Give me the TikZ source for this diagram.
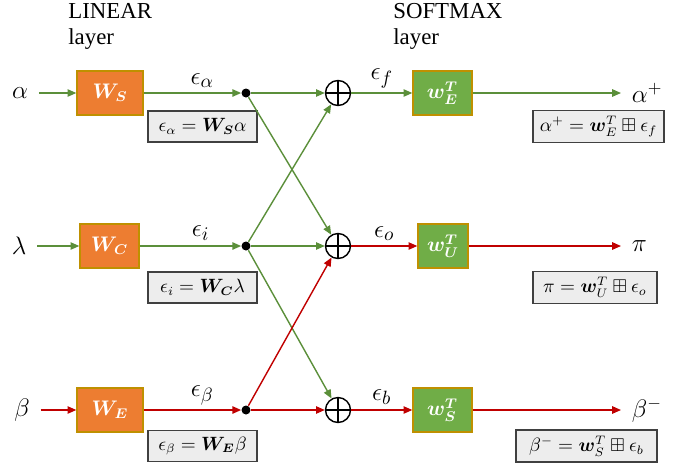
\documentclass[tikz,border=0pt]{standalone}
\usepackage{amsmath,amssymb,bm}
\usepackage{fontspec}
\setmainfont{Liberation Serif}
\usetikzlibrary{arrows.meta,positioning}
\definecolor{linorange}{HTML}{ED7D31}
\definecolor{smgreen}{HTML}{70AD47}
\definecolor{boxedge}{HTML}{BF9000}
\definecolor{flowgreen}{HTML}{5B8F3A}
\definecolor{flowred}{HTML}{C00000}
\definecolor{eqfill}{HTML}{EDEDED}

\begin{document}
\begin{tikzpicture}[x=0.02cm, y=-0.02cm,
  wbox/.style={draw=boxedge, line width=0.8pt, fill=linorange, text=white, minimum height=0.88cm, font=\fontsize{12}{14}\selectfont},
  sbox/.style={wbox, fill=smgreen},
  eqbox/.style={draw=black!75, fill=eqfill, line width=0.8pt, minimum height=0.62cm, font=\fontsize{10.5}{12}\selectfont},
  sym/.style={inner sep=6pt, font=\fontsize{14}{16}\selectfont},
  title/.style={align=left, inner sep=0pt, anchor=north west, font=\fontsize{13}{15}\selectfont},
  junc/.style={circle, fill=black, inner sep=0pt, minimum size=0.18cm},
  adder/.style={circle, draw, line width=0.8pt, inner sep=0pt, minimum size=0.5cm,
    path picture={\draw[line width=0.8pt] (path picture bounding box.north) -- (path picture bounding box.south)
      (path picture bounding box.west) -- (path picture bounding box.east);}},
  flow/.style={-{Triangle[length=5pt,width=4.2pt]}, line width=0.8pt},
  lbl/.style={above, inner sep=2.5pt, font=\fontsize{15.5}{17}\selectfont}]
  \useasboundingbox (0,0) rectangle (683,464);

  \node[title] (lin) at (68,3) {LINEAR\\layer};
  \node[title] (soft) at (393,3) {SOFTMAX\\layer};

  \node[sym] (alpha) at (20,93) {$\alpha$};
  \node[sym] (lambda) at (19,246) {$\lambda$};
  \node[sym] (beta) at (22,410) {$\beta$};

  \node[wbox, minimum width=1.32cm] (ws) at (110,93) {$\bm{W_S}$};
  \node[wbox, minimum width=1.18cm] (wc) at (109.5,246) {$\bm{W_C}$};
  \node[wbox, minimum width=1.32cm] (we) at (110,410) {$\bm{W_E}$};

  \node[junc] (da) at (246,93) {};
  \node[junc] (di) at (246,246) {};
  \node[junc] (db) at (246,410) {};

  \node[adder] (addf) at (338,93) {};
  \node[adder] (addo) at (338,246) {};
  \node[adder] (addb) at (338,410) {};

  \node[sbox, minimum width=1.18cm] (wet) at (442.5,93) {$\bm{w_E^T}$};
  \node[sbox, minimum width=1.0cm] (wut) at (443,246) {$\bm{w_U^T}$};
  \node[sbox, minimum width=1.18cm] (wst) at (442.5,410) {$\bm{w_S^T}$};

  \node[sym, anchor=west] (aplus) at (621,93) {$\alpha^+$};
  \node[sym, anchor=west] (pi) at (621,246) {$\pi$};
  \node[sym, anchor=west] (bminus) at (621,410) {$\beta^-$};

  \node[eqbox, minimum width=2.18cm] (eqa) at (202.5,126.5) {$\epsilon_\alpha = \bm{W_S}\alpha$};
  \node[eqbox, minimum width=2.18cm] (eqi) at (202.5,287.5) {$\epsilon_i = \bm{W_C}\lambda$};
  \node[eqbox, minimum width=2.18cm] (eqb) at (202.5,446) {$\epsilon_\beta = \bm{W_E}\beta$};
  \node[eqbox, minimum width=2.62cm] (eqap) at (598.5,126.5) {$\alpha^+ = \bm{w}_E^T \boxplus \epsilon_f$};
  \node[eqbox, minimum width=2.48cm] (eqpi) at (595,287.5) {$\pi = \bm{w}_U^T \boxplus \epsilon_o$};
  \node[eqbox, minimum width=2.82cm] (eqbm) at (586.5,446) {$\beta^- = \bm{w}_S^T \boxplus \epsilon_b$};

  \draw[flow, flowgreen] (alpha) -- (ws);
  \draw[flow, flowgreen] (ws) -- node[lbl, pos=0.6, text=black] {$\epsilon_\alpha$} (da);
  \draw[flow, flowgreen] (da) -- (addf);
  \draw[flow, flowgreen] (da) -- (addo);
  \draw[flow, flowgreen] (addf) -- node[lbl, text=black] {$\epsilon_f$} (wet);
  \draw[flow, flowgreen] (wet) -- (aplus.west);

  \draw[flow, flowgreen] (lambda) -- (wc);
  \draw[flow, flowgreen] (wc) -- node[lbl, pos=0.6, text=black] {$\epsilon_i$} (di);
  \draw[flow, flowgreen] (di) -- (addf);
  \draw[flow, flowgreen] (di) -- (addo);
  \draw[flow, flowgreen] (di) -- (addb);
  \draw[flow, flowred] (addo) -- node[lbl, text=black] {$\epsilon_o$} (wut);
  \draw[flow, flowred] (wut) -- (pi.west);

  \draw[flow, flowred] (beta) -- (we);
  \draw[flow, flowred] (we) -- node[lbl, pos=0.6, text=black] {$\epsilon_\beta$} (db);
  \draw[flow, flowred] (db) -- (addo);
  \draw[flow, flowred] (db) -- (addb);
  \draw[flow, flowred] (addb) -- node[lbl, text=black] {$\epsilon_b$} (wst);
  \draw[flow, flowred] (wst) -- (bminus.west);
\end{tikzpicture}
\end{document}
